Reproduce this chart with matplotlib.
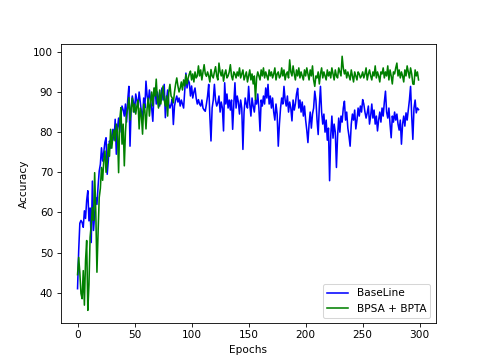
import numpy as np
import matplotlib
matplotlib.use('Agg')
import matplotlib.pyplot as plt

# accuracy per epoch
baseline = [
    41.0, 50.5, 57.3, 58.0, 57.5, 56.3, 60.4, 58.5, 63.0, 65.4,
    57.9, 61.1, 52.5, 67.8, 55.5, 59.7, 63.7, 62.0, 66.5, 70.3,
    72.0, 76.1, 72.8, 75.0, 77.5, 78.6, 69.5, 73.0, 77.8, 76.0,
    79.0, 80.7, 78.0, 83.2, 74.5, 81.0, 83.5, 80.0, 84.5, 86.5,
    85.5, 84.0, 87.0, 82.5, 88.0, 91.4, 76.5, 86.0, 89.0, 87.5,
    85.0, 89.5, 88.0, 86.5, 90.0, 87.5, 85.0, 83.2, 88.5, 86.0,
    92.7, 89.0, 87.5, 90.5, 88.0, 86.0, 82.7, 89.5, 91.0, 87.0,
    90.0, 88.5, 86.5, 89.0, 91.0, 88.0, 91.9, 83.6, 88.0, 90.5,
    87.0, 86.0, 86.9, 88.2, 81.9, 86.5, 88.0, 89.0, 87.5, 88.5,
    86.5, 88.0, 87.0, 86.0, 90.5, 94.7, 91.0, 93.0, 92.3, 89.0,
    91.5, 88.5, 90.0, 91.0, 88.5, 87.0, 88.1, 87.0, 86.5, 88.0,
    86.0, 85.5, 85.2, 87.0, 89.0, 91.9, 84.0, 77.8, 86.0, 88.0,
    91.9, 88.0, 86.5, 87.3, 89.0, 85.0, 87.5, 86.0, 80.3, 92.3,
    87.0, 89.5, 86.0, 88.0, 85.5, 88.0, 80.7, 87.0, 92.3, 86.0,
    89.0, 87.5, 84.5, 88.0, 86.0, 75.7, 85.0, 88.5, 87.0, 86.0,
    91.4, 87.0, 84.0, 88.5, 86.5, 85.0, 88.0, 87.0, 89.5, 86.0,
    80.3, 88.0, 86.5, 89.0, 87.0, 91.0, 88.5, 91.9, 87.0, 89.0,
    86.0, 88.5, 85.0, 83.0, 87.0, 84.5, 76.5, 82.0, 86.0, 88.5,
    87.0, 91.4, 88.0, 86.5, 89.0, 85.0, 87.5, 86.0, 82.8, 88.0,
    85.5, 87.0, 89.5, 90.9, 86.0, 88.0, 85.0, 87.5, 84.0, 86.5,
    83.0, 80.5, 77.4, 82.0, 85.0, 81.0, 84.5, 86.0, 90.2, 88.0,
    83.0, 79.4, 86.5, 91.4, 85.0, 82.0, 84.5, 80.0, 83.0, 78.0,
    81.0, 67.9, 79.0, 84.0, 78.5, 82.0, 80.0, 71.2, 79.0, 83.5,
    80.0, 84.0, 82.5, 86.0, 87.7, 83.0, 85.0, 81.0, 79.0, 76.5,
    82.0, 84.5, 83.0, 85.5, 80.8, 83.0, 86.0, 84.0, 86.5, 85.0,
    88.1, 87.0, 85.0, 83.5, 84.8, 86.5, 82.0, 84.0, 87.0, 83.5,
    85.5, 82.0, 84.0, 80.3, 83.0, 85.0, 82.5, 86.0, 84.0, 87.5,
    90.2, 85.0, 83.5, 86.0, 82.0, 78.6, 84.0, 82.5, 85.0, 83.0,
    84.5, 82.0, 80.5, 83.0, 77.0, 82.0, 84.0, 81.5, 84.8, 83.0,
    85.5, 88.0, 91.4, 84.0, 78.2, 86.0, 88.0, 84.8, 86.0, 85.6,
]

bpsa_bpta = [
    44.5, 48.8, 45.0, 39.8, 38.5, 45.5, 36.9, 48.0, 53.0, 35.6,
    42.0, 53.8, 57.0, 61.2, 58.0, 69.9, 60.0, 45.1, 55.0, 63.7,
    66.0, 71.2, 68.0, 73.0, 75.3, 70.0, 72.4, 77.0, 74.0, 80.7,
    76.0, 79.0, 80.5, 77.8, 82.0, 80.0, 69.9, 83.0, 86.1, 77.0,
    82.0, 71.6, 80.0, 84.5, 86.0, 88.6, 83.0, 86.0, 88.5, 85.0,
    87.0, 84.5, 86.5, 88.0, 80.8, 86.0, 84.0, 79.5, 87.0, 85.5,
    80.8, 86.0, 88.5, 84.0, 87.5, 90.0, 86.5, 91.0, 89.0, 93.2,
    88.0, 86.0, 90.5, 87.0, 89.5, 91.5, 88.0, 86.5, 89.0, 84.0,
    90.0, 91.9, 89.0, 88.5, 87.3, 90.0, 92.0, 93.5, 91.5, 90.0,
    91.0, 92.5, 90.5, 93.0, 91.5, 94.3, 92.0, 93.5, 94.5, 95.2,
    93.0, 94.5, 92.5, 95.0, 93.5, 94.0, 96.5, 94.0, 95.5, 93.0,
    95.0, 96.8, 94.5, 93.9, 95.0, 94.0, 92.5, 95.6, 94.0, 93.5,
    95.0, 96.3, 94.0, 93.0, 97.2, 95.0, 94.0, 95.5, 92.7, 94.5,
    95.5, 93.5, 94.0, 95.0, 96.8, 94.0, 93.0, 95.0, 94.5, 93.5,
    95.0, 94.0, 96.0, 93.5, 94.5, 95.5, 93.0, 94.0, 95.0, 92.5,
    94.0, 95.5, 93.0, 94.5, 92.0, 94.0, 88.1, 93.5, 95.0, 94.0,
    93.0, 95.5, 94.0, 96.0, 93.5, 95.0, 94.0, 93.0, 95.5, 94.0,
    95.0, 93.5, 94.5, 96.0, 93.0, 94.5, 95.0, 93.5, 94.0, 96.0,
    94.0, 95.5, 93.0, 94.5, 95.0, 93.5, 98.0, 95.0, 94.0, 96.5,
    94.5, 93.0, 95.5, 94.0, 96.0, 93.5, 95.0, 94.0, 93.0, 95.5,
    94.0, 96.0, 94.5, 93.0, 95.5, 94.0, 96.5, 93.0, 91.4, 94.0,
    93.5, 95.0, 92.0, 94.5, 96.0, 93.5, 95.0, 94.0, 93.0, 95.5,
    94.0, 95.0, 93.5, 96.0, 94.5, 93.0, 95.5, 94.0, 93.5, 96.0,
    95.0, 94.0, 98.9, 96.0, 94.5, 95.5, 93.5, 95.0, 94.0, 93.0,
    95.5, 94.0, 92.5, 95.0, 94.0, 93.0, 95.0, 94.5, 93.5, 94.0,
    95.0, 93.5, 94.5, 96.0, 93.0, 94.5, 95.5, 94.0, 93.0, 95.0,
    94.0, 96.5, 93.5, 95.0, 94.0, 92.5, 95.0, 94.5, 96.0, 93.5,
    95.0, 94.0, 96.5, 93.0, 95.5, 94.0, 92.0, 95.0, 94.5, 96.0,
    97.2, 94.0, 95.5, 93.5, 95.0, 94.0, 92.5, 95.5, 94.0, 96.5,
    95.0, 93.5, 96.0, 94.5, 92.0, 91.9, 95.5, 94.0, 95.0, 93.0,
]

epochs = np.arange(len(baseline))

fig = plt.figure(figsize=(6.4, 4.8), dpi=75.625)
plt.plot(epochs, baseline, color='blue', label='BaseLine')
plt.plot(epochs, bpsa_bpta, color='green', label='BPSA + BPTA')
plt.xlabel('Epochs')
plt.ylabel('Accuracy')
plt.legend(loc='lower right')
plt.savefig('out.png', dpi=75.625)
